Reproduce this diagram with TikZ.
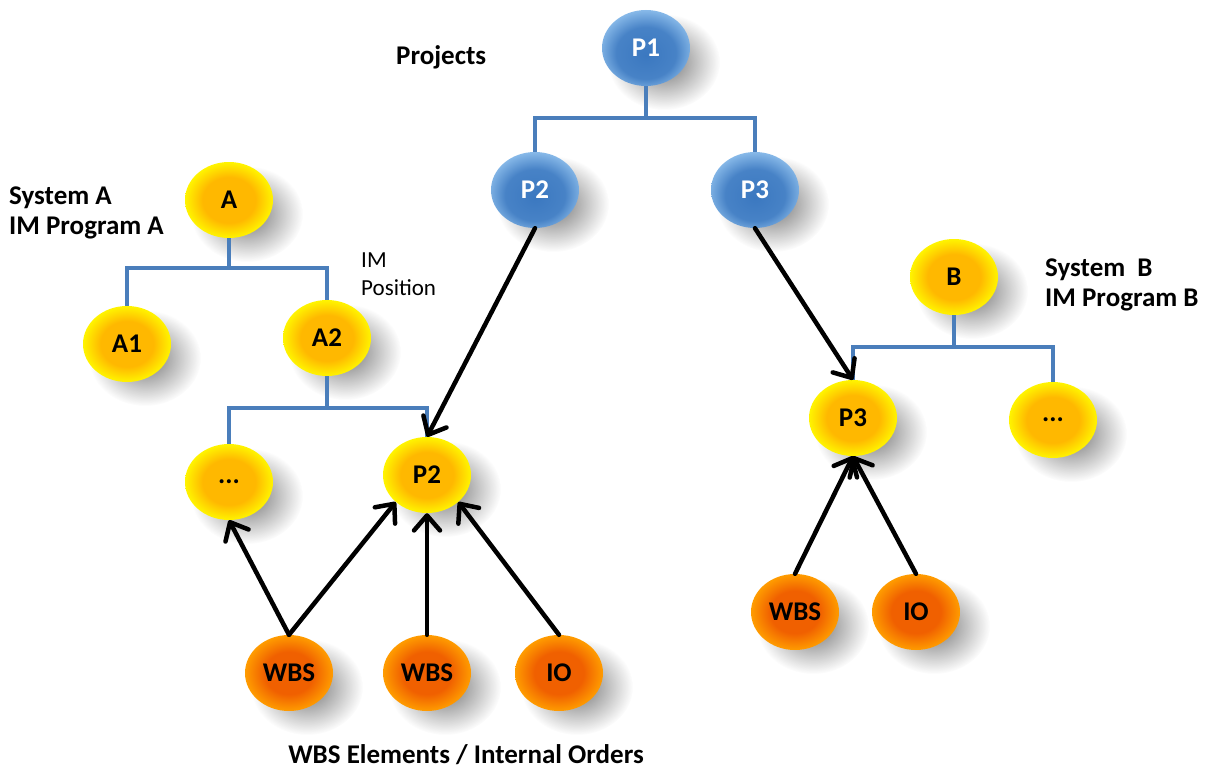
\documentclass[tikz,border=0pt]{standalone}
\usepackage{fontspec}
\setmainfont{Carlito}
\usetikzlibrary{arrows.meta,shapes.geometric,fadings}
\definecolor{yc}{HTML}{FFB800}
\definecolor{ye}{HTML}{FFF400}
\definecolor{bc}{HTML}{3B78C0}
\definecolor{be}{HTML}{8CBDEB}
\definecolor{oc}{HTML}{F06000}
\definecolor{oe}{HTML}{FF9C00}
\definecolor{treeblue}{HTML}{4A7EBB}
\pgfdeclareradialshading{yball}{\pgfpoint{0bp}{0bp}}{color(0bp)=(yc); color(15bp)=(yc); color(25bp)=(ye); color(50bp)=(ye)}
\pgfdeclareradialshading{bball}{\pgfpoint{0bp}{-5bp}}{color(0bp)=(bc); color(17bp)=(bc!85!be); color(28bp)=(be); color(50bp)=(be)}
\pgfdeclareradialshading{oball}{\pgfpoint{0bp}{0bp}}{color(0bp)=(oc); color(14bp)=(oc); color(25bp)=(oe); color(50bp)=(oe)}
\tikzfading[name=shadefade, inner color=transparent!15, outer color=transparent!100]
\tikzset{
  ball/.style={ellipse, minimum width=88pt, minimum height=76pt, inner sep=0pt,
    font=\bfseries\fontsize{27}{29}\selectfont},
  blueball/.style={ball, shading=bball, text=white},
  yellowball/.style={ball, shading=yball},
  orangeball/.style={ball, shading=oball},
  shadowball/.style={fill=black, opacity=.65, path fading=shadefade},
  tree/.style={draw=treeblue, line width=3.5pt},
  arr/.style={draw=black, line width=4.5pt, line cap=round, line join=round,
    -{Straight Barb[length=15pt,width=26pt,line cap=round,line join=round]}},
  lbl/.style={font=\bfseries\fontsize{27}{30}\selectfont, align=left, inner sep=0pt},
  small/.style={font=\fontsize{23}{28}\selectfont, align=left, inner sep=0pt}
}
\begin{document}
\begin{tikzpicture}[x=1pt,y=-1pt]
\useasboundingbox (0,0) rectangle (1217,776);
% centres
\coordinate (cP1) at (646,48);
\coordinate (cP2b) at (535,190);
\coordinate (cP3b) at (755,190);
\coordinate (cA) at (229,200);
\coordinate (cA1) at (127,344);
\coordinate (cA2) at (327,338);
\coordinate (cDL) at (229,482);
\coordinate (cP2y) at (427,475);
\coordinate (cB) at (954,277);
\coordinate (cP3y) at (853,418);
\coordinate (cDR) at (1053,420);
\coordinate (cW1) at (289,673);
\coordinate (cW2) at (427,673);
\coordinate (cIO) at (559,673);
\coordinate (cW3) at (795,612);
\coordinate (cIO2) at (916,612);
% shadows
\foreach \n in {cP1,cP2b,cP3b,cA,cA1,cA2,cDL,cP2y,cB,cP3y,cDR,cW1,cW2,cIO,cW3,cIO2}
  \fill[shadowball] ([shift={(18pt,-14pt)}]\n) ellipse [x radius=56pt, y radius=48pt];
% nodes
\node[blueball] (P1) at (cP1) {P1};
\node[blueball] (P2b) at (cP2b) {P2};
\node[blueball] (P3b) at (cP3b) {P3};
\node[yellowball] (A) at (cA) {A};
\node[yellowball] (A1) at (cA1) {A1};
\node[yellowball] (A2) at (cA2) {A2};
\node[yellowball] (DL) at (cDL) {...};
\node[yellowball] (P2y) at (cP2y) {P2};
\node[yellowball] (B) at (cB) {B};
\node[yellowball] (P3y) at (cP3y) {P3};
\node[yellowball] (DR) at (cDR) {...};
\node[orangeball] (W1) at (cW1) {WBS};
\node[orangeball] (W2) at (cW2) {WBS};
\node[orangeball] (IO) at (cIO) {IO};
\node[orangeball] (W3) at (cW3) {WBS};
\node[orangeball] (IO2) at (cIO2) {IO};
% tree lines
\draw[tree] (P1.south) -- ++(0,32) -| (P2b.north);
\draw[tree] (P1.south) -- ++(0,32) -| (P3b.north);
\draw[tree] (A.south) -- ++(0,30) -| (A1.north);
\draw[tree] (A.south) -- ++(0,30) -| (A2.north);
\draw[tree] (A2.south) -- ++(0,32) -| (DL.north);
\draw[tree] (A2.south) -- ++(0,32) -| (P2y.north);
\draw[tree] (B.south) -- ++(0,32) -| (P3y.north);
\draw[tree] (B.south) -- ++(0,32) -| (DR.north);
% arrows
\draw[arr] (P2b.south) -- (P2y.north);
\draw[arr] (P3b.south) -- (P3y.north);
\draw[arr] (W1.north) -- (DL.south);
\draw[arr] (W1.north) -- (P2y.south west);
\draw[arr] (W2.north) -- (P2y.south);
\draw[arr] (IO.north) -- (P2y.south east);
\draw[arr] (W3.north) -- (P3y.south);
\draw[arr] (IO2.north) -- (P3y.south);
% labels
\node[lbl, anchor=west] (projects) at (396,57) {Projects};
\node[lbl, anchor=west] (sysA) at (9,213) {System A\\IM Program A};
\node[small, anchor=west] (impos) at (361,274) {IM\\Position};
\node[lbl, anchor=west] (sysB) at (1045,285) {System\ \ B\\IM Program B};
\node[lbl] (wbsel) at (466,755) {WBS Elements / Internal Orders};
\end{tikzpicture}
\end{document}
